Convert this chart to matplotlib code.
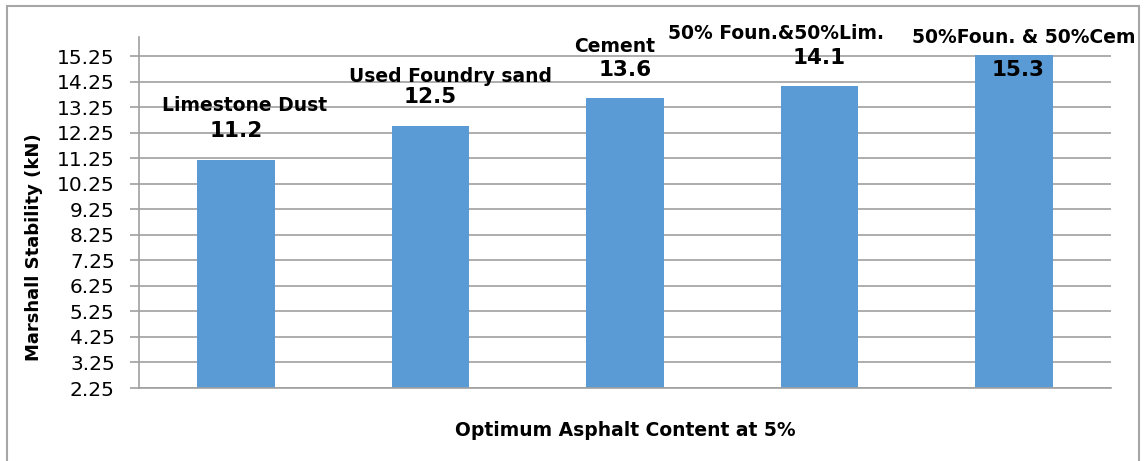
import matplotlib
matplotlib.use("Agg")
import matplotlib.pyplot as plt
from matplotlib.patches import Rectangle

# the last category label is cut off at the chart frame in the reference;
# only its visible part is kept
categories = ["Limestone Dust", "Used Foundry sand", "Cement",
              "50% Foun.&50%Lim.", "50%Foun. & 50%Cem"]
values = [11.2, 12.5, 13.6, 14.1, 15.3]
value_labels = ["11.2", "12.5", "13.6", "14.1", "15.3"]
yticks = [2.25, 3.25, 4.25, 5.25, 6.25, 7.25, 8.25, 9.25, 10.25, 11.25,
          12.25, 13.25, 14.25, 15.25]
ytick_labels = ["2.25", "3.25", "4.25", "5.25", "6.25", "7.25", "8.25", "9.25",
                "10.25", "11.25", "12.25", "13.25", "14.25", "15.25"]

W, H = 1147, 461
fig = plt.figure(figsize=(W / 100, H / 100), dpi=100)
FONT = "DejaVu Sans"
grid_c = "#a0a0a0"
bar_c = "#5b9bd5"

ax = fig.add_axes([139 / W, 1 - 388 / H, (1111 - 139) / W, (388 - 37) / H])
x = list(range(len(categories)))
ax.bar(x, values, width=0.4, color=bar_c, zorder=2)
ax.set_xlim(-0.5, len(categories) - 0.5)
ax.set_ylim(2.25, 16.0)
ax.set_yticks(yticks)
ax.set_yticklabels(ytick_labels, fontfamily=FONT, fontsize=14.5)
ax.set_xticks([])
ax.yaxis.grid(True, color=grid_c, linewidth=1.2, zorder=0)
for s in ["top", "right"]:
    ax.spines[s].set_visible(False)
for s in ["left", "bottom"]:
    ax.spines[s].set_color(grid_c)
    ax.spines[s].set_linewidth(1.2)
ax.tick_params(axis="y", length=6.5, width=1.2, color=grid_c, pad=11)

fig.text(34 / W, 1 - 247 / H, "Marshall Stability (kN)", rotation=90,
         ha="center", va="center", fontfamily=FONT, fontweight="bold",
         fontsize=13)
fig.text(625 / W, 1 - 430 / H, "Optimum Asphalt Content at 5%", ha="center",
         va="center", fontfamily=FONT, fontweight="bold", fontsize=13.5)

# outer chart frame
fig.patches.append(Rectangle((7 / W, -0.05), (1139 - 7) / W, 1.05 - 6 / H,
                             transform=fig.transFigure, fill=False,
                             edgecolor="#a6a6a6", linewidth=1.5))

# label offsets in pixels: (name dx, name dy, value dx, value dy, name ha)
offs = [(8, 54, 0, 29, "center"),
        (20, 50, 0, 29, "center"),
        (-10, 52, 0, 28, "center"),
        (-43, 52, 0, 28, "center"),
        (-102, 17, 4, -15, "left")]
for i, (v, name, vl) in enumerate(zip(values, categories, value_labels)):
    ndx, ndy, vdx, vdy, ha = offs[i]
    ax.annotate(name, xy=(i, v), xytext=(ndx, ndy), textcoords="offset pixels",
                ha=ha, va="center", fontfamily=FONT, fontweight="bold",
                fontsize=13.5, annotation_clip=False, zorder=3)
    ax.annotate(vl, xy=(i, v), xytext=(vdx, vdy), textcoords="offset pixels",
                ha="center", va="center", fontfamily=FONT, fontweight="bold",
                fontsize=15.5, annotation_clip=False, zorder=3)

fig.savefig("out.png", dpi=100)
